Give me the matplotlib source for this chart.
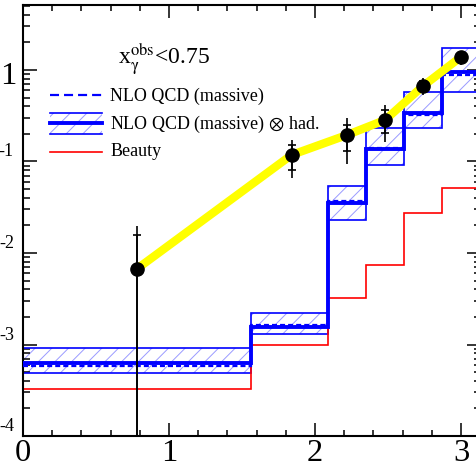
import numpy as np
import matplotlib
matplotlib.use("Agg")
import matplotlib.pyplot as plt
from matplotlib.ticker import MultipleLocator, NullFormatter

plt.rcParams["font.family"] = ["Liberation Serif", "DejaVu Serif"]
plt.rcParams["mathtext.fontset"] = "stix"
plt.rcParams["hatch.linewidth"] = 0.7
plt.rcParams["lines.scale_dashes"] = False

# bins
edges = np.array([0.0, 1.56, 2.09, 2.35, 2.61, 2.87, 3.14])

# NLO QCD (massive) and NLO QCD (massive) x had. with its uncertainty band
nlo = np.array([5.82e-4, 1.63e-3, 0.0370, 0.142, 0.322, 0.882])
nlo_had = np.array([6.28e-4, 1.57e-3, 0.0349, 0.136, 0.339, 0.958])
band_hi = np.array([9.16e-4, 2.23e-3, 0.0544, 0.232, 0.575, 1.75])
band_lo = np.array([4.89e-4, 1.29e-3, 0.0230, 0.0916, 0.230, 0.579])

# beauty contribution
beauty = np.array([3.27e-4, 1.00e-3, 3.20e-3, 7.4e-3, 0.0276, 0.0509])

# data points
data_x = np.array([0.78, 1.84, 2.22, 2.48, 2.74, 3.0])
data_y = np.array([6.7e-3, 0.118, 0.195, 0.284, 0.668, 1.39])
tot_hi = np.array([0.0197, 0.172, 0.299, 0.414, 0.818, 1.60])
tot_lo = np.array([1e-5, 0.066, 0.094, 0.163, 0.533, 1.13])
stat_hi = np.array([0.0157, 0.151, 0.251, 0.365, 0.758, 1.50])
stat_lo = np.array([5e-5, 0.0807, 0.130, 0.205, 0.590, 1.25])

ytick_vals = [1e-4, 1e-3, 1e-2, 1e-1, 1.0]
ytick_text = ["-4", "-3", "-2", "-1", "1"]

fig = plt.figure(figsize=(4.77, 4.73), dpi=100)
ax = fig.add_axes([0.0482, 0.0782, 0.961, 0.9112])
ax.set_yscale("log")

lefts = edges[:-1]
widths = np.diff(edges)
ax.bar(lefts, band_hi - band_lo, bottom=band_lo, width=widths, align="edge",
       facecolor="none", edgecolor="#9a9aff", hatch="//", linewidth=0, zorder=1)
ax.bar(lefts, band_hi - band_lo, bottom=band_lo, width=widths, align="edge",
       fill=False, edgecolor="blue", linewidth=1.2, zorder=2)
ax.stairs(beauty, edges, baseline=None, color="red", lw=1.2, zorder=2)
ax.stairs(nlo, edges, baseline=None, color="blue", lw=1.6,
          linestyle=(0, (3.6, 2.2)), zorder=3)
ax.stairs(nlo_had, edges, baseline=None, color="blue", lw=2.8, zorder=3)

ax.plot(data_x, data_y, color="yellow", lw=6, solid_capstyle="butt", zorder=4)
ax.errorbar(data_x, data_y, yerr=[data_y - tot_lo, tot_hi - data_y], fmt="none",
            ecolor="black", elinewidth=1.2, capsize=0, zorder=5)
ax.errorbar(data_x, data_y, yerr=[data_y - stat_lo, stat_hi - data_y], fmt="o",
            color="black", ms=9.5, elinewidth=1.2, capsize=3.2, capthick=1.2,
            zorder=6)

ax.set_xlim(0, 3.14)
ax.set_ylim(1e-4, 5.13)

ax.xaxis.set_major_locator(MultipleLocator(1))
ax.xaxis.set_minor_locator(MultipleLocator(0.2))
ax.tick_params(which="both", direction="in", top=True, right=True, width=1.1)
ax.tick_params(axis="x", which="major", length=9.5, labelsize=23.4, pad=2)
ax.tick_params(axis="x", which="minor", length=4.5)
ax.tick_params(axis="y", which="major", length=10)
ax.tick_params(axis="y", which="minor", length=5)
ax.yaxis.set_major_formatter(NullFormatter())
ax.yaxis.set_minor_formatter(NullFormatter())
for s in ax.spines.values():
    s.set_linewidth(1.5)

# y labels, the picture only shows the exponents
for v, t in zip(ytick_vals, ytick_text):
    if t == "1":
        ax.annotate(t, xy=(0, v), xycoords=("axes fraction", "data"),
                    xytext=(-6, -14), textcoords="offset pixels",
                    ha="right", va="baseline", fontsize=23.4)
    else:
        ax.annotate(t, xy=(0, v), xycoords=("axes fraction", "data"),
                    xytext=(-9, 5), textcoords="offset pixels",
                    ha="right", va="baseline", fontsize=13.1)

# legend drawn by hand
tr = ax.transAxes
ax.text(0.207, 0.861, r"x$_{\mathrm{\gamma}}^{\rm obs}$<0.75", transform=tr,
        fontsize=17, ha="left", va="baseline")
ax.plot([0.059, 0.172], [0.791, 0.791], transform=tr, color="blue", lw=1.6,
        linestyle=(0, (6.5, 3.6)))
ax.fill_between([0.059, 0.172], [0.701, 0.701], [0.749, 0.749], transform=tr,
                facecolor="none", edgecolor="#9a9aff", hatch="//", linewidth=0)
ax.plot([0.059, 0.172], [0.749, 0.749], transform=tr, color="blue", lw=1.2)
ax.plot([0.059, 0.172], [0.701, 0.701], transform=tr, color="blue", lw=1.2)
ax.plot([0.059, 0.172], [0.726, 0.726], transform=tr, color="blue", lw=2.8)
ax.plot([0.059, 0.172], [0.659, 0.659], transform=tr, color="red", lw=1.2)
ax.text(0.19, 0.789, "NLO QCD (massive)", transform=tr, fontsize=13,
        ha="left", va="center")
ax.text(0.19, 0.724, r"NLO QCD (massive) $\otimes$ had.", transform=tr,
        fontsize=13, ha="left", va="center")
ax.text(0.19, 0.661, "Beauty", transform=tr, fontsize=13,
        ha="left", va="center")

fig.savefig("out.png", dpi=100)
